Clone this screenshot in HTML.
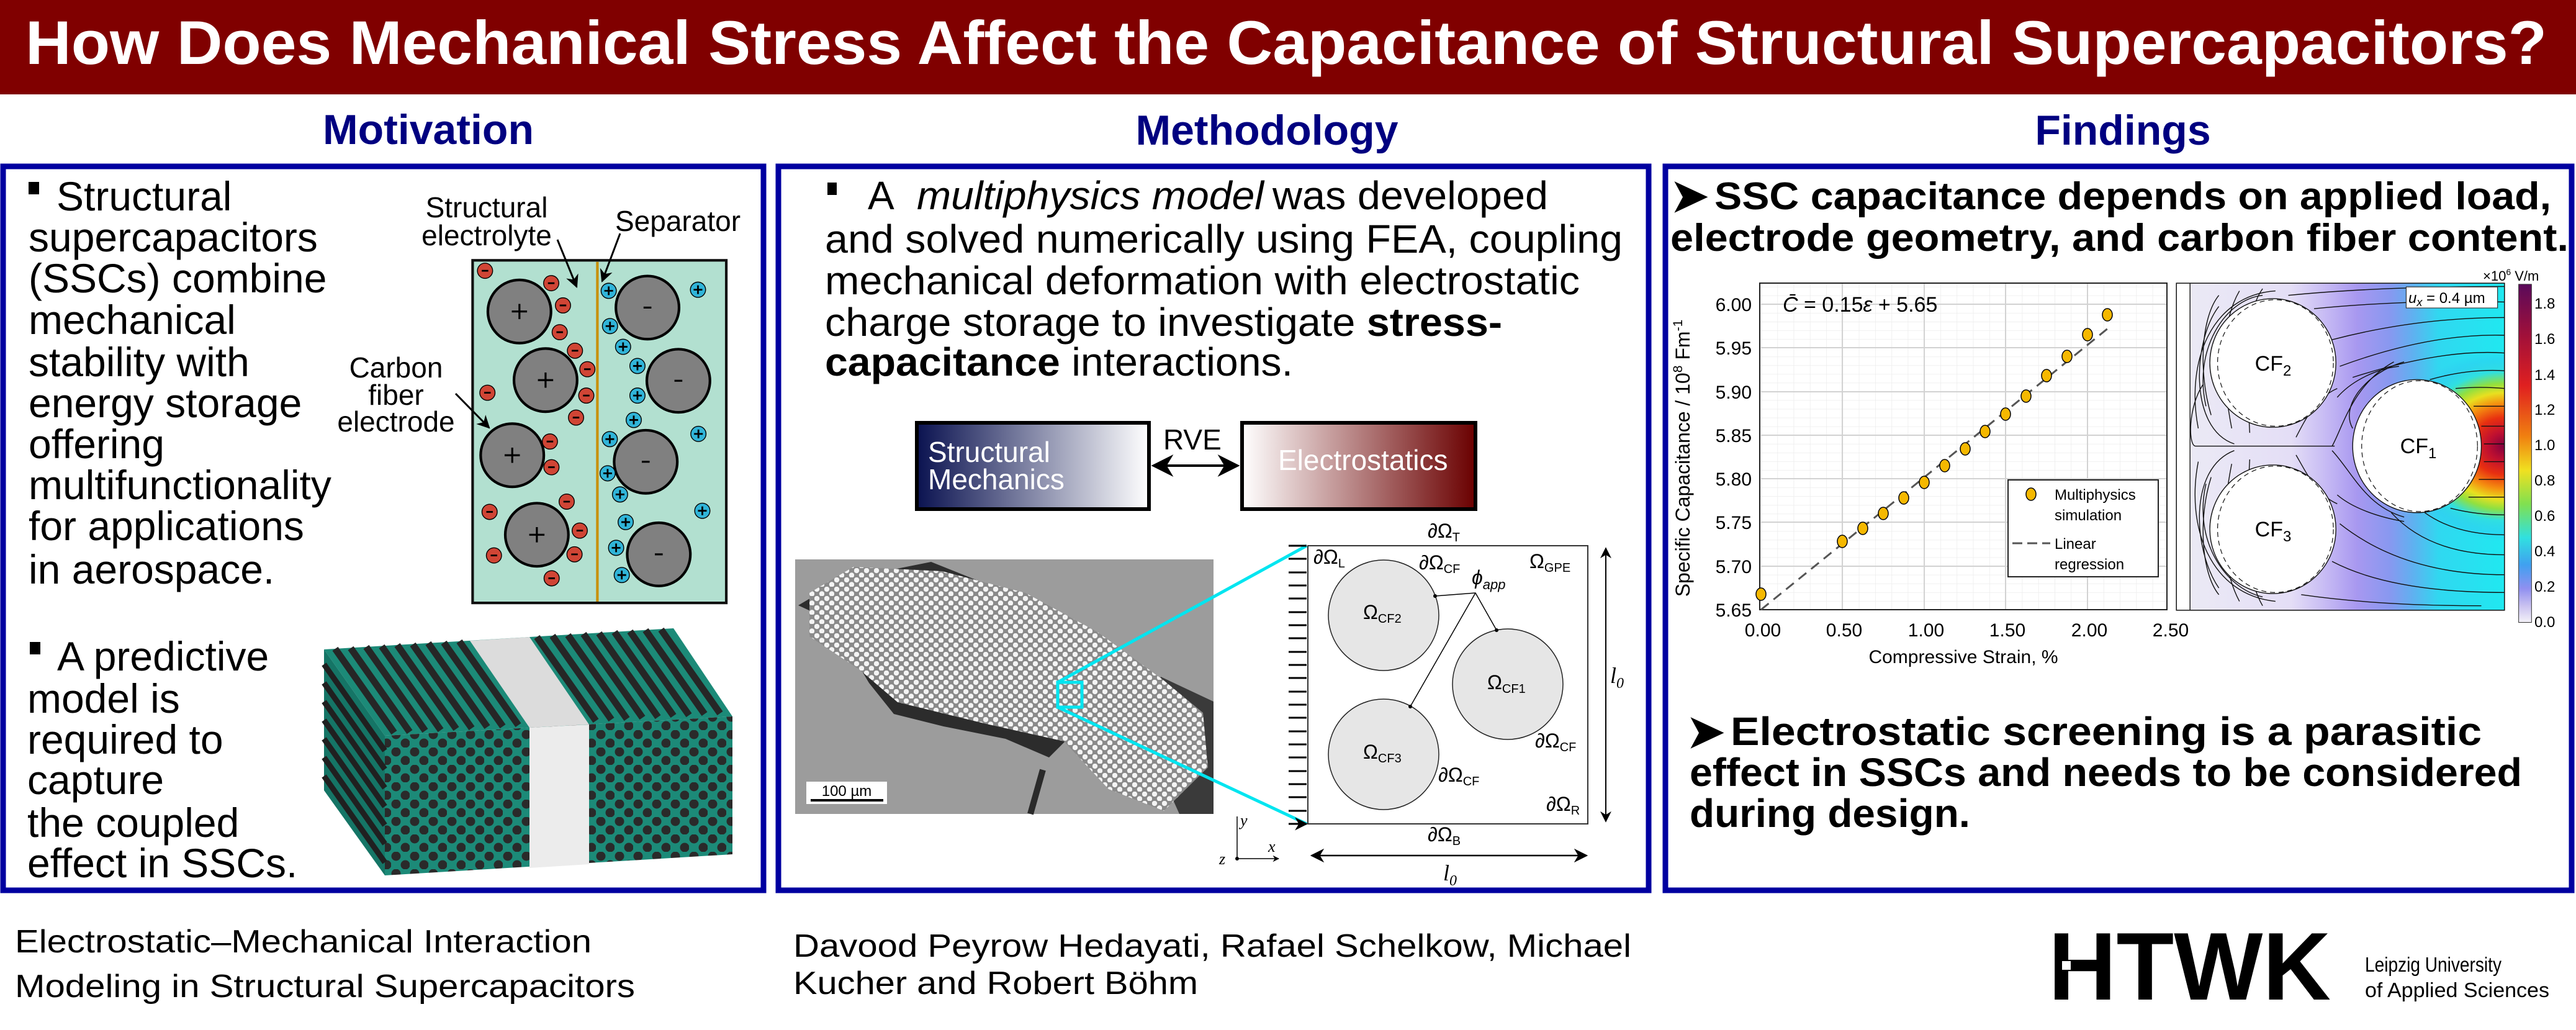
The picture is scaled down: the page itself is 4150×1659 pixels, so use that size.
<!DOCTYPE html>
<html><head><meta charset="utf-8"><style>
html,body{margin:0;padding:0;background:#fff;}
svg{display:block;}
text{font-family:"Liberation Sans",Arial,sans-serif;}
.serif{font-family:"Liberation Serif",serif;font-style:italic;}
</style></head><body>
<svg width="4150" height="1659" viewBox="0 0 4150 1659" xmlns="http://www.w3.org/2000/svg">
<defs>
<linearGradient id="gMech" x1="0" y1="0" x2="1" y2="0"><stop offset="0" stop-color="#0a1250"/><stop offset="1" stop-color="#ffffff"/></linearGradient>
<linearGradient id="gElec" x1="0" y1="0" x2="1" y2="0"><stop offset="0" stop-color="#ffffff"/><stop offset="1" stop-color="#6a0000"/></linearGradient>
<linearGradient id="gField" x1="0" y1="0" x2="1" y2="0">
<stop offset="0" stop-color="#ecebf5"/><stop offset="0.35" stop-color="#e4def6"/><stop offset="0.45" stop-color="#c8bcf4"/><stop offset="0.55" stop-color="#a898f0"/><stop offset="0.65" stop-color="#8898f0"/><stop offset="0.72" stop-color="#60b0f0"/><stop offset="0.8" stop-color="#30d8f0"/><stop offset="1" stop-color="#20e8f0"/></linearGradient>
<radialGradient id="gHot" gradientUnits="userSpaceOnUse" cx="1290" cy="780" r="430">
<stop offset="0" stop-color="#800040"/><stop offset="0.15" stop-color="#c01030"/><stop offset="0.3" stop-color="#e83010"/><stop offset="0.45" stop-color="#f59010"/><stop offset="0.56" stop-color="#e8e020"/><stop offset="0.66" stop-color="#90e040"/><stop offset="0.78" stop-color="#30e0e0"/><stop offset="0.92" stop-color="#30c8f0" stop-opacity="0.4"/><stop offset="1" stop-color="#30c8f0" stop-opacity="0"/></radialGradient>
<linearGradient id="gBar" x1="0" y1="0" x2="0" y2="1">
<stop offset="0" stop-color="#5a0a5a"/><stop offset="0.15" stop-color="#a0103a"/><stop offset="0.3" stop-color="#e02020"/><stop offset="0.45" stop-color="#f08010"/><stop offset="0.55" stop-color="#f0e020"/><stop offset="0.65" stop-color="#80e050"/><stop offset="0.75" stop-color="#30e0e0"/><stop offset="0.83" stop-color="#40a0f0"/><stop offset="0.9" stop-color="#9090f0"/><stop offset="0.95" stop-color="#c8c0f0"/><stop offset="1" stop-color="#f4f2f8"/></linearGradient>
<pattern id="pDots" patternUnits="userSpaceOnUse" width="16" height="15"><rect width="16" height="15" fill="#8a8a8a"/><circle cx="4" cy="4" r="4.2" fill="#f4f4f4"/><circle cx="12" cy="11.5" r="4.2" fill="#f4f4f4"/></pattern>
<pattern id="pFib" patternUnits="userSpaceOnUse" width="30" height="28"><rect width="30" height="28" fill="#1c8a78"/><circle cx="8" cy="7" r="7.5" fill="#2a2a2a"/><circle cx="23" cy="21" r="7.5" fill="#2a2a2a"/></pattern>
<pattern id="pMinor" patternUnits="userSpaceOnUse" x="2837" y="982" width="26.28" height="14.06"><path d="M0 0H26.28M0 0V14.06" stroke="#ececec" stroke-width="1.5" fill="none"/></pattern>
<marker id="ah" viewBox="0 0 10 10" refX="9" refY="5" markerWidth="7" markerHeight="7" orient="auto"><path d="M0 0L10 5L0 10L3 5z" fill="#000"/></marker>
<marker id="ah2" viewBox="0 0 10 10" refX="9" refY="5" markerWidth="9" markerHeight="9" orient="auto-start-reverse"><path d="M0 0L10 5L0 10L3 5z" fill="#000"/></marker>
</defs>

<rect x="0" y="0" width="4150" height="152" fill="#800000"/>
<text x="41" y="103" font-size="99" font-weight="bold" fill="#fff" textLength="4062" lengthAdjust="spacingAndGlyphs">How Does Mechanical Stress Affect the Capacitance of Structural Supercapacitors?</text>

<text x="690" y="232" font-size="68" font-weight="bold" fill="#000080" text-anchor="middle">Motivation</text>
<text x="2041" y="233" font-size="68" font-weight="bold" fill="#000080" text-anchor="middle">Methodology</text>
<text x="3420" y="233" font-size="68" font-weight="bold" fill="#000080" text-anchor="middle">Findings</text>

<rect x="5" y="268" width="1225" height="1166" fill="none" stroke="#0000a0" stroke-width="9"/>
<rect x="1254" y="268" width="1402" height="1166" fill="none" stroke="#0000a0" stroke-width="9"/>
<rect x="2683" y="268" width="1460" height="1166" fill="none" stroke="#0000a0" stroke-width="9"/>

<g font-size="66" fill="#000">
<rect x="46" y="293" width="17" height="20"/>
<text x="91" y="339">Structural</text>
<text x="46" y="405">supercapacitors</text>
<text x="46" y="471">(SSCs) combine</text>
<text x="46" y="538">mechanical</text>
<text x="46" y="606">stability with</text>
<text x="46" y="672">energy storage</text>
<text x="46" y="738">offering</text>
<text x="46" y="804">multifunctionality</text>
<text x="46" y="870">for applications</text>
<text x="46" y="940">in aerospace.</text>
<rect x="48" y="1034" width="17" height="20"/>
<text x="92" y="1080">A predictive</text>
<text x="44" y="1148">model is</text>
<text x="44" y="1214">required to</text>
<text x="44" y="1279">capture</text>
<text x="44" y="1348">the coupled</text>
<text x="44" y="1413">effect in SSCs.</text>
</g>

<g transform="translate(700,400) scale(0.3508)">
<rect x="175" y="55" width="1165" height="1573" fill="#b2e0d0" stroke="#111" stroke-width="12"/>
<line x1="748" y1="62" x2="748" y2="1622" stroke="#c8900a" stroke-width="12"/>
<g fill="#808080" stroke="#000" stroke-width="12">
<circle cx="390" cy="290" r="145"/><circle cx="510" cy="605" r="145"/><circle cx="357" cy="950" r="145"/><circle cx="470" cy="1315" r="145"/>
<circle cx="978" cy="272" r="145"/><circle cx="1120" cy="608" r="145"/><circle cx="970" cy="980" r="145"/><circle cx="1030" cy="1405" r="145"/>
</g>
<g stroke="#000" stroke-width="9">
<path d="M355 290h70M390 255v70"/><path d="M475 605h70M510 570v70"/><path d="M322 950h70M357 915v70"/><path d="M435 1315h70M470 1280v70"/>
<path d="M960 272h36"/><path d="M1102 608h36"/><path d="M952 980h36"/><path d="M1012 1405h36"/>
</g>
<g fill="#d04535" stroke="#000" stroke-width="4">
<circle cx="232" cy="103" r="35"/><circle cx="536" cy="160" r="35"/><circle cx="590" cy="262" r="35"/><circle cx="575" cy="385" r="35"/><circle cx="645" cy="470" r="35"/><circle cx="702" cy="555" r="35"/><circle cx="697" cy="676" r="35"/><circle cx="650" cy="777" r="35"/><circle cx="243" cy="663" r="35"/><circle cx="530" cy="887" r="35"/><circle cx="537" cy="1005" r="35"/><circle cx="607" cy="1163" r="35"/><circle cx="253" cy="1210" r="35"/><circle cx="667" cy="1296" r="35"/><circle cx="643" cy="1405" r="35"/><circle cx="273" cy="1410" r="35"/><circle cx="538" cy="1515" r="35"/>
</g>
<g stroke="#000" stroke-width="8">
<path d="M217 103h30M521 160h30M575 262h30M560 385h30M630 470h30M687 555h30M682 676h30M635 777h30M228 663h30M515 887h30M522 1005h30M592 1163h30M238 1210h30M652 1296h30M628 1405h30M258 1410h30M523 1515h30"/>
</g>
<g fill="#30b4d8" stroke="#000" stroke-width="4">
<circle cx="800" cy="195" r="35"/><circle cx="806" cy="357" r="35"/><circle cx="866" cy="452" r="35"/><circle cx="932" cy="540" r="35"/><circle cx="932" cy="676" r="35"/><circle cx="915" cy="788" r="35"/><circle cx="805" cy="876" r="35"/><circle cx="795" cy="1033" r="35"/><circle cx="852" cy="1130" r="35"/><circle cx="878" cy="1257" r="35"/><circle cx="834" cy="1375" r="35"/><circle cx="860" cy="1500" r="35"/><circle cx="1210" cy="190" r="35"/><circle cx="1212" cy="852" r="35"/><circle cx="1230" cy="1205" r="35"/>
</g>
<g stroke="#000" stroke-width="8">
<path d="M780 195h40M800 175v40M786 357h40M806 337v40M846 452h40M866 432v40M912 540h40M932 520v40M912 676h40M932 656v40M895 788h40M915 768v40M785 876h40M805 856v40M775 1033h40M795 1013v40M832 1130h40M852 1110v40M858 1257h40M878 1237v40M814 1375h40M834 1355v40M840 1500h40M860 1480v40M1190 190h40M1210 170v40M1192 852h40M1212 832v40M1210 1205h40M1230 1185v40"/>
</g>
</g>
<g font-size="46" fill="#000">
<text x="784" y="350" text-anchor="middle">Structural</text>
<text x="784" y="395" text-anchor="middle">electrolyte</text>
<text x="991" y="372">Separator</text>
<text x="638" y="608" text-anchor="middle">Carbon</text>
<text x="638" y="652" text-anchor="middle">fiber</text>
<text x="638" y="695" text-anchor="middle">electrode</text>
</g>
<g stroke="#000" stroke-width="3" fill="none" marker-end="url(#ah)">
<path d="M898 386L929 462"/><path d="M999 376L970 453"/><path d="M734 634L788 689"/>
</g>

<polygon points="522,1046 1085,1012 1180,1154 620,1185" fill="#1c8a78"/>
<g stroke="#262626" stroke-width="11">
<path d="M540 1045l95 135M565 1044l95 135M590 1042l95 135M615 1041l95 135M640 1039l95 135M665 1038l95 135M690 1036l95 135M715 1035l95 135M740 1033l95 135"/>
<path d="M865 1026l95 135M890 1024l95 135M915 1023l95 135M940 1021l95 135M965 1020l95 135M990 1018l95 135M1015 1017l95 135M1040 1015l95 135M1065 1014l95 135"/>
</g>
<polygon points="757,1032 853,1026 949,1167 853,1172" fill="#dcdcdc"/>
<polygon points="620,1185 1180,1154 1180,1376 620,1410" fill="url(#pFib)"/>
<polygon points="853,1172 949,1167 949,1392 853,1398" fill="#ececec"/>
<polygon points="522,1046 620,1185 620,1410 522,1273" fill="#157566"/>
<g stroke="#202020" stroke-width="9">
<path d="M522 1070l98 139M522 1100l98 139M522 1130l98 139M522 1160l98 139M522 1190l98 139M522 1220l98 139M522 1250l98 139"/>
</g>

<g font-size="64" fill="#000">
<rect x="1333" y="294" width="15" height="20"/>
<text x="1398" y="337">A</text>
<text x="1477" y="337" font-style="italic" textLength="559" lengthAdjust="spacingAndGlyphs">multiphysics model</text>
<text x="2050" y="337" textLength="444" lengthAdjust="spacingAndGlyphs">was developed</text>
<text x="1329" y="407" textLength="1285" lengthAdjust="spacingAndGlyphs">and solved numerically using FEA, coupling</text>
<text x="1329" y="474" textLength="1216" lengthAdjust="spacingAndGlyphs">mechanical deformation with electrostatic</text>
<text x="1329" y="541" textLength="1091" lengthAdjust="spacingAndGlyphs">charge storage to investigate <tspan font-weight="bold">stress-</tspan></text>
<text x="1329" y="605" textLength="754" lengthAdjust="spacingAndGlyphs"><tspan font-weight="bold">capacitance</tspan> interactions.</text>
</g>

<rect x="1477" y="681" width="374" height="139" fill="url(#gMech)" stroke="#000" stroke-width="6"/>
<text x="1495" y="744" font-size="46" fill="#fff">Structural</text>
<text x="1495" y="788" font-size="46" fill="#fff">Mechanics</text>
<rect x="2001" y="681" width="376" height="139" fill="url(#gElec)" stroke="#000" stroke-width="6"/>
<text x="2059" y="757" font-size="46" fill="#fff">Electrostatics</text>
<text x="1874" y="724" font-size="46">RVE</text>
<line x1="1858" y1="750" x2="1994" y2="750" stroke="#000" stroke-width="4" marker-start="url(#ah2)" marker-end="url(#ah2)"/>

<rect x="1281" y="901" width="674" height="410" fill="#9c9c9c"/>
<polygon points="1286,975 1340,1000 1400,1100 1440,1150 1520,1170 1620,1190 1690,1220 1720,1190 1600,1160 1470,1130 1400,1080 1350,1010 1320,955" fill="#2c2c2c"/>
<polygon points="1400,925 1500,905 1600,945 1700,990 1790,1060 1760,1090 1680,1020 1560,965 1450,935" fill="#2e2e2e"/>
<polygon points="1870,1090 1955,1130 1955,1311 1900,1311 1850,1200" fill="#3a3a3a"/>
<polygon points="1375,913 1518,920 1652,955 1768,1018 1875,1096 1938,1148 1946,1236 1875,1306 1786,1271 1714,1194 1589,1166 1446,1131 1384,1078 1304,1025 1304,955" fill="url(#pDots)"/>
<path d="M1680 1240L1660 1311" stroke="#2a2a2a" stroke-width="10"/>
<rect x="1299" y="1259" width="130" height="36" fill="#fff"/>
<text x="1364" y="1282" font-size="24" text-anchor="middle">100 µm</text>
<rect x="1306" y="1287" width="117" height="4" fill="#000"/>
<rect x="1704" y="1099" width="39" height="40" fill="none" stroke="#00e5f0" stroke-width="5"/>
<path d="M1704 1099L2105 879M1704 1139L2105 1327" stroke="#00e5f0" stroke-width="5"/>

<rect x="2107" y="879" width="451" height="448" fill="#fff" stroke="#333" stroke-width="2"/>
<g stroke="#000" stroke-width="3" marker-end="url(#ah)">
<path d="M2076 879h29M2076 900h29M2076 922h29M2076 943h29M2076 964h29M2076 986h29M2076 1007h29M2076 1028h29M2076 1050h29M2076 1071h29M2076 1092h29M2076 1114h29M2076 1135h29M2076 1156h29M2076 1178h29M2076 1199h29M2076 1220h29M2076 1242h29M2076 1263h29M2076 1284h29M2076 1306h29M2076 1327h29"/>
</g>
<g fill="#e6e6e6" stroke="#222" stroke-width="1.5">
<circle cx="2229" cy="991" r="89"/><circle cx="2429" cy="1102" r="89"/><circle cx="2229" cy="1215" r="89"/>
</g>
<path d="M2312 960L2377 955L2411 1015M2377 955L2272 1138" stroke="#000" stroke-width="1.5" fill="none"/>
<circle cx="2312" cy="960" r="3"/><circle cx="2411" cy="1015" r="3"/><circle cx="2272" cy="1138" r="3"/>
<g font-size="32">
<text x="2300" y="866" font-family="Liberation Serif">∂Ω<tspan font-size="20" dy="6">T</tspan></text>
<text x="2116" y="908" font-family="Liberation Serif">∂Ω<tspan font-size="20" dy="6">L</tspan></text>
<text x="2286" y="917" font-family="Liberation Serif">∂Ω<tspan font-size="20" dy="6">CF</tspan></text>
<text x="2371" y="941" font-family="Liberation Serif" font-style="italic">ϕ<tspan font-size="22" dy="8">app</tspan></text>
<text x="2464" y="915" font-family="Liberation Serif">Ω<tspan font-size="20" dy="6">GPE</tspan></text>
<text x="2196" y="997" font-family="Liberation Serif">Ω<tspan font-size="20" dy="6">CF2</tspan></text>
<text x="2396" y="1110" font-family="Liberation Serif">Ω<tspan font-size="20" dy="6">CF1</tspan></text>
<text x="2473" y="1204" font-family="Liberation Serif">∂Ω<tspan font-size="20" dy="6">CF</tspan></text>
<text x="2196" y="1222" font-family="Liberation Serif">Ω<tspan font-size="20" dy="6">CF3</tspan></text>
<text x="2317" y="1259" font-family="Liberation Serif">∂Ω<tspan font-size="20" dy="6">CF</tspan></text>
<text x="2491" y="1306" font-family="Liberation Serif">∂Ω<tspan font-size="20" dy="6">R</tspan></text>
<text x="2300" y="1355" font-family="Liberation Serif">∂Ω<tspan font-size="20" dy="6">B</tspan></text>
</g>
<text class="serif" x="2594" y="1100" font-size="36">l<tspan font-size="24" dy="8">0</tspan></text>
<text class="serif" x="2325" y="1418" font-size="36">l<tspan font-size="24" dy="8">0</tspan></text>
<line x1="2587" y1="883" x2="2587" y2="1323" stroke="#000" stroke-width="2" marker-start="url(#ah2)" marker-end="url(#ah2)"/>
<line x1="2113" y1="1378" x2="2556" y2="1378" stroke="#000" stroke-width="2.5" marker-start="url(#ah2)" marker-end="url(#ah2)"/>
<path d="M1993 1383V1315M1993 1383H2060" stroke="#000" stroke-width="1.5" fill="none" marker-end="url(#ah)"/>
<circle cx="1993" cy="1383" r="3"/>
<text class="serif" x="1998" y="1330" font-size="26">y</text>
<text class="serif" x="2043" y="1372" font-size="26">x</text>
<text class="serif" x="1964" y="1392" font-size="26">z</text>

<g font-weight="bold" fill="#000">
<text x="2692" y="340" font-size="72" font-family="DejaVu Sans">➤</text>
<text x="2762" y="337" font-size="62" textLength="1348" lengthAdjust="spacingAndGlyphs">SSC capacitance depends on applied load,</text>
<text x="2691" y="404" font-size="62" textLength="1447" lengthAdjust="spacingAndGlyphs">electrode geometry, and carbon fiber content.</text>
<text x="2718" y="1203" font-size="72" font-family="DejaVu Sans">➤</text>
<text x="2788" y="1200" font-size="64" textLength="1210" lengthAdjust="spacingAndGlyphs">Electrostatic screening is a parasitic</text>
<text x="2722" y="1266" font-size="64" textLength="1341" lengthAdjust="spacingAndGlyphs">effect in SSCs and needs to be considered</text>
<text x="2722" y="1332" font-size="64" textLength="452" lengthAdjust="spacingAndGlyphs">during design.</text>
</g>

<rect x="2835" y="456" width="656" height="526" fill="url(#pMinor)"/>
<g stroke="#d2d2d2" stroke-width="2">
<path d="M2837 490H3491M2837 560H3491M2837 631H3491M2837 701H3491M2837 771H3491M2837 841H3491M2837 912H3491"/>
<path d="M2968 456V982M3100 456V982M3231 456V982M3363 456V982"/>
</g>
<rect x="2835" y="456" width="656" height="526" fill="none" stroke="#222" stroke-width="2"/>
<g font-size="30" text-anchor="end">
<text x="2822" y="501">6.00</text><text x="2822" y="571">5.95</text><text x="2822" y="642">5.90</text><text x="2822" y="712">5.85</text><text x="2822" y="782">5.80</text><text x="2822" y="852">5.75</text><text x="2822" y="923">5.70</text><text x="2822" y="993">5.65</text>
</g>
<g font-size="30" text-anchor="middle">
<text x="2840" y="1025">0.00</text><text x="2971" y="1025">0.50</text><text x="3103" y="1025">1.00</text><text x="3234" y="1025">1.50</text><text x="3366" y="1025">2.00</text><text x="3497" y="1025">2.50</text>
<text x="3163" y="1068">Compressive Strain, %</text>
<text transform="translate(2722,738) rotate(-90)" font-size="32">Specific Capacitance / 10<tspan font-size="21" dy="-12">8</tspan><tspan dy="12"> Fm</tspan><tspan font-size="21" dy="-12">-1</tspan></text>
</g>
<text x="2872" y="502" font-size="34" font-family="Liberation Serif"><tspan font-style="italic">C̄</tspan> = 0.15<tspan font-style="italic">ε</tspan> + 5.65</text>
<line x1="2837" y1="982" x2="3397" y2="528" stroke="#555" stroke-width="3" stroke-dasharray="16,10"/>
<g fill="#f5b800" stroke="#000" stroke-width="1.5">
<ellipse cx="2837" cy="957" rx="8" ry="10"/><ellipse cx="2968" cy="872" rx="8" ry="10"/><ellipse cx="3001" cy="851" rx="8" ry="10"/><ellipse cx="3034" cy="827" rx="8" ry="10"/><ellipse cx="3067" cy="802" rx="8" ry="10"/><ellipse cx="3100" cy="777" rx="8" ry="10"/><ellipse cx="3133" cy="750" rx="8" ry="10"/><ellipse cx="3166" cy="723" rx="8" ry="10"/><ellipse cx="3198" cy="695" rx="8" ry="10"/><ellipse cx="3231" cy="667" rx="8" ry="10"/><ellipse cx="3264" cy="638" rx="8" ry="10"/><ellipse cx="3297" cy="605" rx="8" ry="10"/><ellipse cx="3330" cy="574" rx="8" ry="10"/><ellipse cx="3363" cy="539" rx="8" ry="10"/><ellipse cx="3395" cy="507" rx="8" ry="10"/>
</g>
<rect x="3235" y="773" width="242" height="156" fill="#fff" stroke="#222" stroke-width="2"/>
<g fill="#f5b800" stroke="#000" stroke-width="1.5"><ellipse cx="3272" cy="796" rx="8" ry="10"/></g>
<line x1="3242" y1="875" x2="3303" y2="875" stroke="#555" stroke-width="3" stroke-dasharray="16,8"/>
<g font-size="24"><text x="3310" y="805">Multiphysics</text><text x="3310" y="838">simulation</text><text x="3310" y="884">Linear</text><text x="3310" y="917">regression</text></g>

<g transform="translate(3500,440) scale(0.41458,0.35714)">
<rect x="15" y="45" width="1275" height="1475" fill="url(#gField)"/>
<rect x="15" y="45" width="1275" height="1475" fill="url(#gHot)"/>
<rect x="15" y="45" width="53" height="1475" fill="#fff"/>
<g fill="none" stroke="#111" stroke-width="1.4">
<path vector-effect="non-scaling-stroke" d="M68 45V1520"/>
<path vector-effect="non-scaling-stroke" d="M450 100Q800 60 1290 60M550 160Q900 120 1290 130M620 300Q950 200 1290 200M650 420Q1000 270 1290 280M700 470Q1050 340 1290 360M1000 480Q1150 430 1290 440M1100 520Q1200 510 1290 520M1170 600Q1230 600 1290 600M1200 690Q1250 690 1290 690M1210 770Q1250 770 1290 770"/>
<path vector-effect="non-scaling-stroke" d="M1210 850Q1250 850 1290 850M1190 930Q1240 930 1290 930M1150 1010Q1220 1010 1290 1010M1080 1060Q1180 1090 1290 1090M980 1080Q1100 1180 1290 1180M850 1080Q1000 1270 1290 1270M650 1130Q900 1360 1290 1360M620 1300Q850 1440 1290 1440M500 1450Q800 1500 1200 1500"/>
<path vector-effect="non-scaling-stroke" d="M100 700C50 400 150 100 400 80M130 600C80 350 200 120 350 100M240 770C60 700 80 300 180 150M630 780H90C60 780 60 600 120 500M620 780C660 700 700 500 860 400"/>
<path vector-effect="non-scaling-stroke" d="M100 850C50 1150 150 1450 400 1480M130 950C80 1200 200 1420 350 1460M240 800C60 880 80 1250 180 1420M620 800C700 900 750 1050 900 1100M700 700C650 600 750 450 900 400"/>
<path vector-effect="non-scaling-stroke" d="M180 100C110 200 100 450 150 640M260 80C200 200 180 400 230 700M350 70C300 150 280 300 300 720M480 740C520 650 560 560 640 520M180 1450C110 1350 100 1100 150 920M260 1480C200 1350 180 1150 230 860M350 1500C300 1400 280 1250 300 840M480 820C520 900 560 1000 640 1040M640 560C700 480 800 430 880 420M640 1000C700 1060 800 1100 900 1120"/>
</g>
<g fill="#fff" stroke="#111" stroke-width="1.4">
<ellipse vector-effect="non-scaling-stroke" cx="390" cy="405" rx="245" ry="290"/>
<ellipse vector-effect="non-scaling-stroke" cx="950" cy="780" rx="250" ry="300"/>
<ellipse vector-effect="non-scaling-stroke" cx="390" cy="1155" rx="245" ry="290"/>
</g>
<g fill="none" stroke="#111" stroke-width="1.2" stroke-dasharray="8,6">
<ellipse vector-effect="non-scaling-stroke" cx="400" cy="405" rx="225" ry="285"/>
<ellipse vector-effect="non-scaling-stroke" cx="960" cy="780" rx="225" ry="295"/>
<ellipse vector-effect="non-scaling-stroke" cx="400" cy="1155" rx="225" ry="285"/>
</g>
<rect x="15" y="45" width="1275" height="1475" fill="none" stroke="#111" stroke-width="1.5" vector-effect="non-scaling-stroke"/>
<rect x="908" y="62" width="355" height="95" fill="#fff" stroke="#333" stroke-width="1.2" vector-effect="non-scaling-stroke"/>
<rect x="1345" y="50" width="50" height="1525" fill="url(#gBar)" stroke="#333" stroke-width="1" vector-effect="non-scaling-stroke"/>
</g>
<g font-size="34" text-anchor="middle">
<text x="3662" y="597">CF<tspan font-size="24" dy="8">2</tspan></text>
<text x="3896" y="730">CF<tspan font-size="24" dy="8">1</tspan></text>
<text x="3662" y="864">CF<tspan font-size="24" dy="8">3</tspan></text>
</g>
<text x="3880" y="488" font-size="24" font-family="Liberation Serif"><tspan font-style="italic">u<tspan font-size="18" dy="5">x</tspan></tspan><tspan dy="-5"> = 0.4 µm</tspan></text>
<g font-size="24">
<text x="4083" y="497">1.8</text><text x="4083" y="554">1.6</text><text x="4083" y="612">1.4</text><text x="4083" y="668">1.2</text><text x="4083" y="725">1.0</text><text x="4083" y="782">0.8</text><text x="4083" y="839">0.6</text><text x="4083" y="896">0.4</text><text x="4083" y="953">0.2</text><text x="4083" y="1010">0.0</text>
<text x="4000" y="452" font-size="22">×10<tspan font-size="14" dy="-9">6</tspan><tspan dy="9"> V/m</tspan></text>
</g>

<text x="24" y="1534" font-size="52" textLength="929" lengthAdjust="spacingAndGlyphs">Electrostatic–Mechanical Interaction</text>
<text x="24" y="1606" font-size="52" textLength="999" lengthAdjust="spacingAndGlyphs">Modeling in Structural Supercapacitors</text>
<text x="1278" y="1541" font-size="52" textLength="1350" lengthAdjust="spacingAndGlyphs">Davood Peyrow Hedayati, Rafael Schelkow, Michael</text>
<text x="1278" y="1601" font-size="52" textLength="652" lengthAdjust="spacingAndGlyphs">Kucher and Robert Böhm</text>
<text x="3300" y="1610" font-size="155" font-weight="bold" textLength="455" lengthAdjust="spacingAndGlyphs">HTWK</text>
<rect x="3322" y="1548" width="14" height="14" fill="#fff"/>
<text x="3810" y="1565" font-size="33" textLength="220" lengthAdjust="spacingAndGlyphs">Leipzig University</text>
<text x="3810" y="1606" font-size="33" textLength="297" lengthAdjust="spacingAndGlyphs">of Applied Sciences</text>
</svg>
</body></html>
